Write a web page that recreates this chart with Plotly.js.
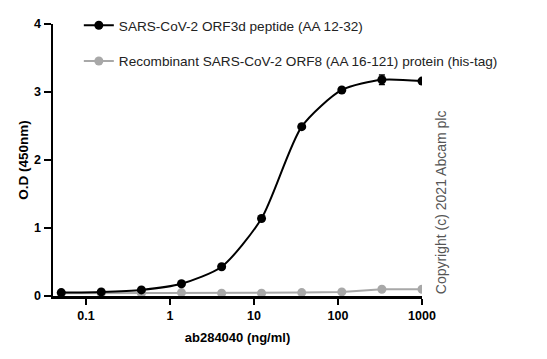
<!DOCTYPE html>
<html><head><meta charset="utf-8">
<script src="https://cdn.plot.ly/plotly-3.0.1.min.js"></script>
<style>html,body{margin:0;padding:0;background:#fff}#c{width:547px;height:359px}</style>
</head><body><div id="c"></div>
<script>
const conc = [0.0508, 0.152, 0.457, 1.37, 4.12, 12.3, 37.0, 111, 333, 1000];
const orf3d = [0.05, 0.06, 0.09, 0.18, 0.43, 1.14, 2.49, 3.03, 3.18, 3.16];
const orf3dErr = [0, 0, 0, 0, 0, 0, 0, 0, 0.07, 0];
const orf8 = [0.04, 0.04, 0.04, 0.05, 0.04, 0.04, 0.05, 0.06, 0.10, 0.10];
const names = ["SARS-CoV-2 ORF3d peptide (AA 12-32)", "Recombinant SARS-CoV-2 ORF8 (AA 16-121) protein (his-tag)"];
const xTicks = [0.1, 1, 10, 100, 1000];
const xTickText = ["0.1", "1", "10", "100", "1000"];
const yTicks = [0, 1, 2, 3, 4];

const gray = "#a8a8a8";
const traces = [
  {x: conc, y: orf8, name: names[1], legendgroup: "b", legendrank: 2, mode: "lines+markers", type: "scatter",
   line: {color: gray, width: 2}, marker: {color: gray, size: 9}},
  {x: conc, y: orf3d, name: names[0], legendgroup: "a", legendrank: 1, mode: "lines+markers", type: "scatter",
   line: {color: "#000", width: 2, shape: "spline", smoothing: 0.7},
   marker: {color: "#000", size: 9},
   error_y: {type: "data", array: orf3dErr, visible: true, color: "#000", thickness: 1.5, width: 3}}
];
const layout = {
  width: 547, height: 359,
  margin: {l: 53, r: 125, t: 5, b: 63},
  paper_bgcolor: "#fff", plot_bgcolor: "#fff",
  font: {family: "Liberation Sans, Arial, sans-serif", color: "#000"},
  showlegend: true,
  legend: {x: 0.07, y: 0.983, xanchor: "left", yanchor: "top",
           traceorder: "grouped", font: {size: 13.6, color: "#222"}, tracegroupgap: 15,
           bgcolor: "rgba(0,0,0,0)"},
  xaxis: {type: "log", range: [Math.log10(0.0405), 3], tickvals: xTicks, ticktext: xTickText,
          showgrid: false, zeroline: false, showline: true, linecolor: "#000", linewidth: 2.5,
          ticks: "outside", ticklen: 6, tickwidth: 2.5, tickcolor: "#000",
          tickfont: {size: 12.5, weight: "bold"},
          title: {text: "<b>ab284040 (ng/ml)</b>", font: {size: 13}, standoff: 12}},
  yaxis: {range: [0, 4], domain: [0, 0.9347], tickvals: yTicks, showgrid: false, zeroline: false, showline: true,
          linecolor: "#000", linewidth: 2.5, ticks: "outside", ticklen: 7, tickwidth: 2.5, tickcolor: "#000",
          tickfont: {size: 12.5, weight: "bold"},
          title: {text: "<b>O.D (450nm)</b>", font: {size: 13.5}, standoff: 3}},
  annotations: [{text: "Copyright (c) 2021 Abcam plc", xref: "paper", yref: "paper", x: 1.025, y: 0,
                 xanchor: "left", yanchor: "bottom", textangle: -90, showarrow: false,
                 font: {size: 14, color: "#555"}}]
};
Plotly.newPlot("c", traces, layout, {displayModeBar: false, staticPlot: true});
</script></body></html>
